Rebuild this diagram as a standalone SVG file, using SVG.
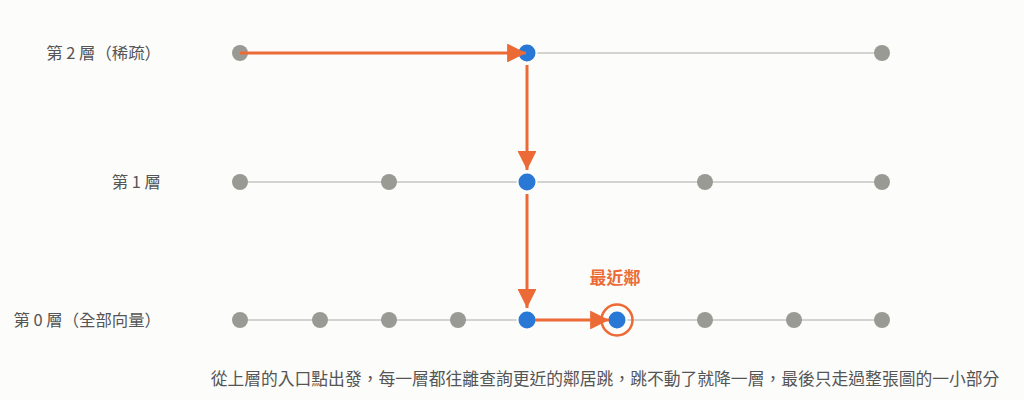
<svg xmlns="http://www.w3.org/2000/svg" width="1024" height="400" viewBox="0 0 1024 400">
<style>
.bg{fill:#fcfcfa}
.track{stroke:#d3d3cf;stroke-width:2;fill:none}
.g{fill:#9a9a94}
.b{fill:#2a78d6;stroke:#fcfcfa;stroke-width:2}
.arr{stroke:#ec6a36;stroke-width:3;fill:none}
.lbl{font-family:"Noto Sans CJK TC","Noto Sans CJK SC",sans-serif;font-size:16.4px;fill:#555;text-anchor:end}
.cap{font-family:"Noto Sans CJK TC","Noto Sans CJK SC",sans-serif;font-size:16.8px;fill:#555;text-anchor:middle}
.hl{font-family:"Noto Sans CJK TC","Noto Sans CJK SC",sans-serif;font-size:17px;font-weight:bold;fill:#ec6a36;text-anchor:middle}
</style>
<defs>
<marker id="ah" viewBox="0 0 10 10" refX="10" refY="5" markerWidth="6.3" markerHeight="6.3" markerUnits="strokeWidth" orient="auto">
<path d="M0,0 L10,5 L0,10 Z" fill="#ec6a36"/>
</marker>
</defs>
<rect class="bg" x="0" y="0" width="1024" height="400"/>
<g id="tracks">
<line class="track" x1="240" y1="53" x2="882" y2="53"/>
<line class="track" x1="240" y1="182" x2="882" y2="182"/>
<line class="track" x1="240" y1="320" x2="882" y2="320"/>
</g>
<g id="labels">
<text class="lbl" x="161" y="59">第 2 層（稀疏）</text>
<text class="lbl" x="161" y="188">第 1 層</text>
<text class="lbl" x="161" y="326">第 0 層（全部向量）</text>
</g>
<g id="layer2">
<circle id="n2a" class="g" cx="240" cy="53" r="8"/>
<circle id="n2b" class="b" cx="527" cy="53" r="9.5"/>
<circle id="n2c" class="g" cx="882" cy="53" r="8"/>
</g>
<g id="layer1">
<circle id="n1a" class="g" cx="240" cy="182" r="8"/>
<circle id="n1b" class="g" cx="389" cy="182" r="8"/>
<circle id="n1c" class="b" cx="527" cy="182" r="9.5"/>
<circle id="n1d" class="g" cx="705" cy="182" r="8"/>
<circle id="n1e" class="g" cx="882" cy="182" r="8"/>
</g>
<g id="layer0">
<circle id="n0a" class="g" cx="240" cy="320" r="8"/>
<circle id="n0b" class="g" cx="320" cy="320" r="8"/>
<circle id="n0c" class="g" cx="389" cy="320" r="8"/>
<circle id="n0d" class="g" cx="458" cy="320" r="8"/>
<circle id="n0e" class="b" cx="527" cy="320" r="9.5"/>
<circle id="n0f" class="b" cx="617" cy="320" r="9.5"/>
<circle id="n0g" class="g" cx="705" cy="320" r="8"/>
<circle id="n0h" class="g" cx="794" cy="320" r="8"/>
<circle id="n0i" class="g" cx="882" cy="320" r="8"/>
</g>
<g id="nearest">
<circle cx="617" cy="320" r="15.5" fill="none" stroke="#ec6a36" stroke-width="2.5"/>
<text class="hl" x="615" y="284">最近鄰</text>
</g>
<g id="connectors">
<line class="arr" x1="240" y1="53" x2="526" y2="53" marker-end="url(#ah)"/>
<line class="arr" x1="527" y1="65" x2="527" y2="170" marker-end="url(#ah)"/>
<line class="arr" x1="527" y1="194" x2="527" y2="308" marker-end="url(#ah)"/>
<line class="arr" x1="535" y1="320" x2="609" y2="320" marker-end="url(#ah)"/>
</g>
<text class="cap" x="605" y="385">從上層的入口點出發，每一層都往離查詢更近的鄰居跳，跳不動了就降一層，最後只走過整張圖的一小部分</text>
</svg>
